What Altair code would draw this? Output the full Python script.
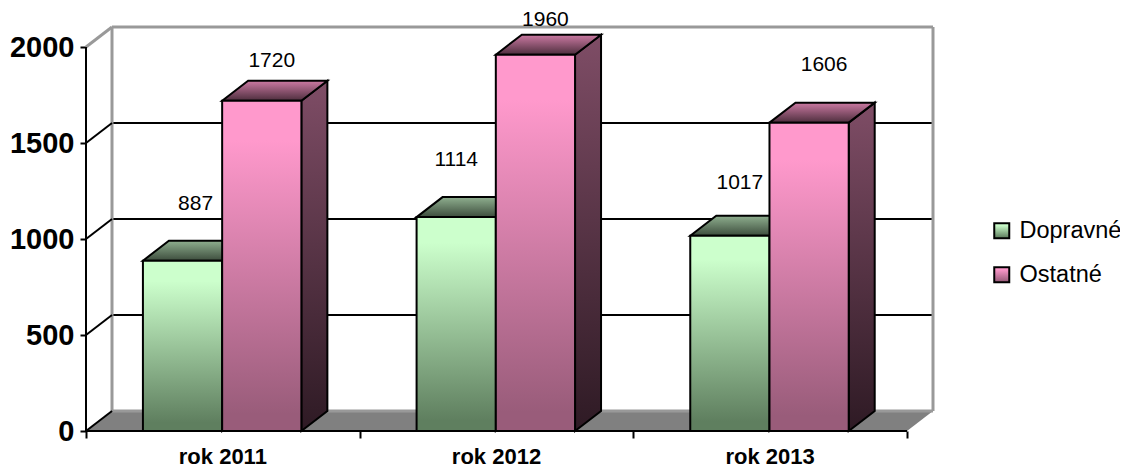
import altair as alt
import pandas as pd

categories = ["rok 2011", "rok 2012", "rok 2013"]
dopravne = [887, 1114, 1017]
ostatne = [1720, 1960, 1606]
series_names = ["Dopravné", "Ostatné"]
y_ticks = [0, 500, 1000, 1500, 2000]
x_ticks = [0, 1, 2, 3]

# layout (separate from the data)
W, H = 847, 404
UNIT = 0.192            # px per value unit
CAT = 273.67            # px per category
DX = 26 / CAT           # depth of the 3D box, in category units
DY = 20 / UNIT          # depth of the 3D box, in value units
BAR0 = 0.208
BW = 0.2895
FONT = "Liberation Sans"
label_dx = {"Dopravné": [13, 0, 10], "Ostatné": [10, 10, 15]}
label_lift = {"Dopravné": [57, 57, 53], "Ostatné": [40, 35, 58]}

xs = alt.Scale(domain=[0, 3 + DX], nice=False, zero=False)
ys = alt.Scale(domain=[0, H / UNIT], nice=False, zero=False)

x_axis = alt.Axis(values=x_ticks, labels=False, domain=False, grid=False, title=None,
                  tickSize=7, tickWidth=2, tickColor="black")
y_axis = alt.Axis(values=y_ticks, domain=False, grid=False, title=None, tickSize=6, tickWidth=2,
                  tickColor="black", labelFont=FONT, labelFontSize=29, labelFontWeight="bold",
                  labelColor="black", labelPadding=6, format="d")


def grad(top, bottom):
    return alt.Gradient(
        gradient="linear", x1=0, y1=0, x2=0, y2=1,
        stops=[alt.GradientStop(color=top, offset=0), alt.GradientStop(color=bottom, offset=1)],
    )


def grad_expr(top, bottom):
    return {"expr": "{gradient:'linear',x1:0,y1:0,x2:0,y2:1,stops:[{offset:0.12,color:'%s'},{offset:0.95,color:'%s'}]}" % (top, bottom)}


X = lambda f: alt.X(f, type="quantitative", scale=xs, axis=x_axis)
Y = lambda f: alt.Y(f, type="quantitative", scale=ys, axis=y_axis)

# floor
floor_df = pd.DataFrame({
    "x": [0, DX, 3, 3 + DX],
    "y": [0, DY, DY, DY],
    "y2": [0, 0, 0, DY],
})
floor = alt.Chart(floor_df).mark_area(fill="#808080", orient="vertical").encode(
    x=X("x"), y=Y("y"), y2="y2:Q")

grid_df = pd.DataFrame({"v": y_ticks})
grid_df["x"] = DX
grid_df["x2"] = 3 + DX
grid_df["y"] = grid_df.v + DY
grid_df["wall"] = grid_df.v.isin([0, 2000])

wall_h = alt.Chart(grid_df).transform_filter("datum.wall").mark_rule(color="#999999", strokeWidth=3).encode(
    x=X("x"), x2="x2:Q", y=Y("y"))
grid_h = alt.Chart(grid_df).transform_filter("!datum.wall").mark_rule(color="black", strokeWidth=2).encode(
    x=X("x"), x2="x2:Q", y=Y("y"))

wall_v_df = pd.DataFrame({"x": [DX, 3 + DX], "y": [DY, DY], "y2": [2000 + DY, 2000 + DY]})
wall_v = alt.Chart(wall_v_df).mark_rule(color="#999999", strokeWidth=3).encode(
    x=X("x"), y=Y("y"), y2="y2:Q")

diag_df = pd.DataFrame(
    [{"v": v, "x": 0, "y": v} for v in y_ticks] + [{"v": v, "x": DX, "y": v + DY} for v in y_ticks]
)
diag_df["grey"] = diag_df.v == 2000
diag_black = alt.Chart(diag_df).transform_filter("!datum.grey").mark_line(color="black", strokeWidth=2).encode(
    x=X("x"), y=Y("y"), detail="v:N")
diag_grey = alt.Chart(diag_df).transform_filter("datum.grey").mark_line(color="#999999", strokeWidth=3).encode(
    x=X("x"), y=Y("y"), detail="v:N")


def faces(values, col):
    front, side, top = [], [], []
    for i, v in enumerate(values):
        x0 = i + BAR0 + col * BW
        x1 = x0 + BW
        front.append({"series": series_names[col], "x": x0, "x2": x1, "y": 0, "y2": v})
        side.extend([
            {"b": i, "x": x1, "y": v, "y2": 0},
            {"b": i, "x": x1 + DX, "y": v + DY, "y2": DY},
        ])
        top.extend([
            {"b": i, "x": x0, "y": v, "y2": v},
            {"b": i, "x": x0 + DX, "y": v + DY, "y2": v},
            {"b": i, "x": x1, "y": v + DY, "y2": v},
            {"b": i, "x": x1 + DX, "y": v + DY, "y2": v + DY},
        ])
    return pd.DataFrame(front), pd.DataFrame(side), pd.DataFrame(top)


def face_area(df, fill):
    return alt.Chart(df).mark_area(
        fill=fill, stroke="black", strokeWidth=2, orient="vertical", strokeJoin="miter"
    ).encode(x=X("x"), y=Y("y"), y2="y2:Q", detail="b:N")


color = alt.Color(
    "series:N",
    scale=alt.Scale(domain=series_names, range=[
        grad_expr("#CCFFCC", "#5F7F5F"), grad_expr("#FF99CC", "#995C7A")]),
    legend=alt.Legend(
        orient="none", legendX=904, legendY=192, title=None,
        symbolType="square", symbolSize=225, symbolStrokeColor="black", symbolStrokeWidth=2,
        labelFont=FONT, labelFontSize=23.5, labelColor="black", labelOffset=6, rowPadding=19,
        symbolOpacity=1,
    ),
)


def front_bar(df):
    return alt.Chart(df).mark_bar(stroke="black", strokeWidth=2).encode(
        x=X("x"), x2="x2:Q", y=Y("y"), y2="y2:Q", color=color)


bars = []
face_styles = [
    (("#8FAF8F", "#3D4D3D"), ("#7F997F", "#2E3A2E")),
    (("#CC7AA3", "#4D2E3D"), ("#7F4D66", "#2E1A24")),
]
for col, values in enumerate([dopravne, ostatne]):
    f, s, t = faces(values, col)
    top_c, side_c = face_styles[col]
    bars += [face_area(s, grad(*side_c)), face_area(t, grad(*top_c)), front_bar(f)]

# front axis lines on top of the bars
axis_x = alt.Chart(pd.DataFrame({"x": [0], "x2": [3], "y": [0]})).mark_rule(color="black", strokeWidth=2).encode(
    x=X("x"), x2="x2:Q", y=Y("y"))
axis_y = alt.Chart(pd.DataFrame({"x": [0], "y": [0], "y2": [2000]})).mark_rule(color="black", strokeWidth=2).encode(
    x=X("x"), y=Y("y"), y2="y2:Q")

# value labels
rows = []
for col, values in enumerate([dopravne, ostatne]):
    name = series_names[col]
    for i, v in enumerate(values):
        rows.append({
            "text": str(v),
            "x": i + BAR0 + col * BW + BW / 2 + label_dx[name][i] / CAT,
            "y": v + label_lift[name][i] / UNIT,
        })
value_labels = alt.Chart(pd.DataFrame(rows)).mark_text(
    font=FONT, fontSize=21, color="black", align="center", baseline="middle"
).encode(x=X("x"), y=Y("y"), text="text:N")

cat_df = pd.DataFrame({"cat": categories, "x": [i + 0.5 for i in range(len(categories))]})
cat_labels = alt.Chart(cat_df).mark_text(
    font=FONT, fontSize=22, fontWeight="bold", color="black", align="center", baseline="middle"
).encode(x=X("x"), y=alt.value(H + 26), text="cat:N")

chart = alt.layer(
    floor, grid_h, wall_h, wall_v, diag_black, diag_grey, *bars, axis_x, axis_y, value_labels, cat_labels
).properties(
    width=W, height=H,
    padding={"left": 78, "right": 187, "top": 19, "bottom": 37},
    autosize=alt.AutoSizeParams(type="none"),
    background="white",
).configure_view(stroke=None)

chart.save("out.html", embed_options={"renderer": "svg", "actions": False})
